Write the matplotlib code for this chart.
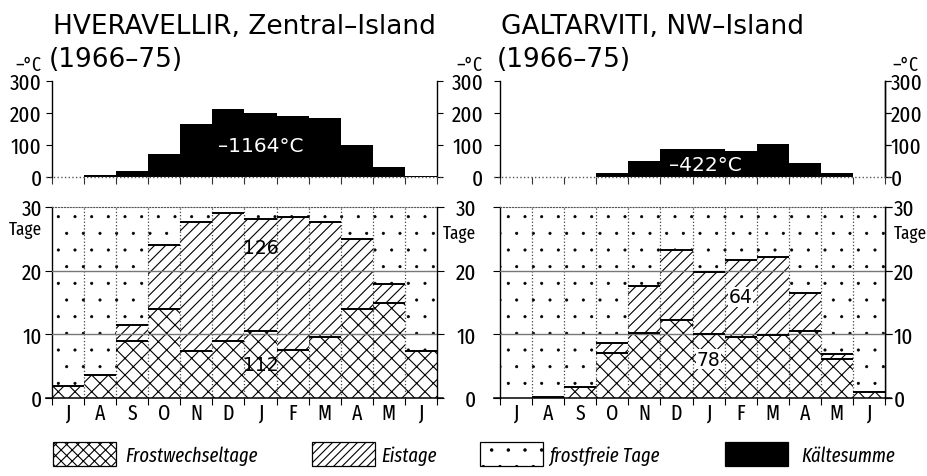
import matplotlib
matplotlib.use('Agg')
import matplotlib.pyplot as plt
import matplotlib.hatch as mhatch
from matplotlib.patches import Patch
import numpy as np

plt.rcParams['hatch.linewidth'] = 0.8
plt.rcParams['hatch.color'] = 'black'
mhatch.SmallFilledCircles.size = 0.07   # finer dots for the "frostfreie Tage" pattern

# ---------------- data ----------------
months = ['J', 'A', 'S', 'O', 'N', 'D', 'J', 'F', 'M', 'A', 'M', 'J']

# HVERAVELLIR, Zentral-Island (1966-75)
hv_kaelte = [0, 5, 20, 71, 167, 211, 199, 191, 185, 101, 31, 4]
hv_frostwechsel = [1.9, 3.6, 8.9, 14.0, 7.4, 8.9, 10.5, 7.5, 9.6, 14.0, 14.9, 7.4]
hv_eis = [0, 0, 2.6, 10.0, 20.2, 20.2, 17.6, 21.0, 18.0, 10.9, 3.0, 0]
hv_frostfrei = [28.1, 26.4, 18.5, 6.0, 2.4, 0.9, 1.9, 1.5, 2.4, 5.1, 12.1, 22.6]

# GALTARVITI, NW-Island (1966-75)
ga_kaelte = [0, 0, 0, 13, 49, 89, 86, 81, 103, 44, 11, 0]
ga_frostwechsel = [0, 0.1, 1.7, 7.1, 10.2, 12.3, 10.0, 9.6, 9.9, 10.6, 6.2, 0.9]
ga_eis = [0, 0, 0, 1.5, 7.4, 10.9, 9.8, 12.1, 12.2, 5.9, 0.7, 0]
ga_frostfrei = [30.0, 29.9, 28.3, 21.4, 12.4, 6.8, 10.2, 8.3, 7.9, 13.5, 23.1, 29.1]

kaelte_ticks = [0, 100, 200, 300]
tage_ticks = [0, 10, 20, 30]
tage_grid = [10, 20]

legend_labels = ['Frostwechseltage', 'Eistage', 'frostfreie Tage', 'Kältesumme']

# ---------------- styling ----------------
NARROW = ['Fira Sans Extra Condensed', 'Barlow Condensed', 'Roboto Condensed',
          'IBM Plex Sans Condensed', 'PT Sans Narrow', 'DejaVu Sans']
WIDE = ['DejaVu Sans']
W, H = 928, 477

fig = plt.figure(figsize=(W / 100, H / 100), dpi=100)


def fx(px):
    return px / W


def fy(py):
    return 1 - py / H


panels = [
    dict(x0=52, t1='HVERAVELLIR, Zentral–Island', t2='(1966–75)',
         kaelte=hv_kaelte, fw=hv_frostwechsel, eis=hv_eis, frei=hv_frostfrei,
         ktext='–1164°C', kpos=(6.0, 97), eistext='126', eispos=(6.0, 23.6),
         fwtext='112', fwpos=(6.0, 5.3), right_labels=False,
         top_pad=3.5, bot_pad=2.0, cx=-8, tage_dy=-9.5),
    dict(x0=500, t1='GALTARVITI, NW–Island', t2='(1966–75)',
         kaelte=ga_kaelte, fw=ga_frostwechsel, eis=ga_eis, frei=ga_frostfrei,
         ktext='–422°C', kpos=(5.9, 38), eistext='64', eispos=(7.0, 15.9),
         fwtext='78', fwpos=(6.0, 6.1), right_labels=True,
         top_pad=8.0, bot_pad=12.0, cx=-13, tage_dy=-12.5),
]

x = np.arange(12)
bounds = np.arange(-0.5, 12, 1.0)
TICK_SIZE = 16.5


def style_labels(labels, size=TICK_SIZE):
    for lab in labels:
        lab.set_fontfamily(NARROW)
        lab.set_fontsize(size)


for p in panels:
    x0 = p['x0']
    # titles
    fig.text(fx(x0 + 1), fy(27), p['t1'], family=WIDE, size=19, va='center', ha='left')
    fig.text(fx(x0 - 3), fy(60), p['t2'], family=WIDE, size=19, va='center', ha='left')

    # ---------- top: Kältesumme ----------
    at = fig.add_axes([fx(x0), fy(178), 385 / W, 96 / H])
    at.bar(x, p['kaelte'], width=1.0, color='black', edgecolor='none', zorder=2)
    at.set_xlim(-0.5, 11.5)
    at.set_ylim(0, 300)
    at.spines['top'].set_visible(False)
    at.spines['bottom'].set_visible(False)
    at.axhline(0, xmin=-0.015, xmax=1.015, color='#555555', ls=':', lw=1.0, clip_on=False, zorder=3)
    for s in ('left', 'right'):
        at.spines[s].set_linewidth(1.0)
    at.set_xticks(bounds)
    at.set_xticklabels([])
    at.tick_params(axis='x', direction='out', length=5, width=0.8, color='#333333')
    at.set_yticks(kaelte_ticks)
    at.tick_params(axis='y', direction='out', length=4, width=0.8, left=True, right=True,
                   labelleft=True, labelright=False, pad=p['top_pad'])
    style_labels(at.get_yticklabels())
    if p['right_labels']:
        sec = at.secondary_yaxis('right')
        sec.set_yticks(kaelte_ticks)
        sec.tick_params(axis='y', direction='out', length=4, width=0.8, pad=0.3)
        sec.spines['right'].set_linewidth(1.0)
        style_labels(sec.get_yticklabels())
        at.annotate('–°C', xy=(1, 300), xycoords=('axes fraction', 'data'),
                    xytext=(5, 5), textcoords='offset points', ha='left', va='bottom',
                    family=NARROW, size=14)
    at.annotate('–°C', xy=(0, 300), xycoords=('axes fraction', 'data'),
                xytext=(p['cx'], 5), textcoords='offset points',
                ha='right', va='bottom', family=NARROW, size=14)
    at.text(p['kpos'][0], p['kpos'][1], p['ktext'], color='white', ha='center', va='center',
            family=WIDE, size=14.5, zorder=5)

    # ---------- bottom: Tage ----------
    ab = fig.add_axes([fx(x0), fy(399), 385 / W, 191 / H])
    fw = np.array(p['fw'])
    eis = np.array(p['eis'])
    frei = np.array(p['frei'])
    ab.bar(x, fw, width=1.0, bottom=0, facecolor='white', edgecolor='black',
           hatch='xx', linewidth=0, zorder=1)
    ab.bar(x, eis, width=1.0, bottom=fw, facecolor='white', edgecolor='black',
           hatch='///', linewidth=0, zorder=1)
    dots = ab.bar(x, frei, width=1.0, bottom=fw + eis, facecolor='white', edgecolor='black',
                  hatch='.', linewidth=0, zorder=1)
    for b in dots:
        b.set_hatch_linewidth(0.5)
    m1 = fw > 0
    ab.hlines(fw[m1], x[m1] - 0.5, x[m1] + 0.5, colors='black', lw=1.4, zorder=4)
    m2 = eis > 0
    ab.hlines((fw + eis)[m2], x[m2] - 0.5, x[m2] + 0.5, colors='black', lw=1.4, zorder=4)
    ab.vlines(bounds[1:-1], 0, 30, colors='#444444', linestyles=':', lw=0.9, zorder=3)
    for g in tage_grid:
        ab.axhline(g, color='#777777', lw=1.0, zorder=3)
    ab.set_xlim(-0.5, 11.5)
    ab.set_ylim(0, 30)
    ab.spines['top'].set_linestyle(':')
    ab.spines['top'].set_color('#555555')
    ab.spines['bottom'].set_visible(False)
    ab.axhline(0, xmin=-0.015, xmax=1.015, color='black', lw=1.1, clip_on=False, zorder=5)
    for s in ('left', 'right'):
        ab.spines[s].set_linewidth(1.0)
    ab.set_xticks(x)
    ab.set_xticklabels(months)
    style_labels(ab.get_xticklabels(), 15.5)
    ab.set_xticks(bounds, minor=True)
    ab.tick_params(axis='x', which='major', length=0, pad=3)
    ab.tick_params(axis='x', which='minor', direction='out', length=5, width=0.8)
    ab.set_yticks(tage_ticks)
    ab.tick_params(axis='y', direction='out', length=5, width=0.8, left=True, right=True,
                   labelleft=True, labelright=False, pad=p['bot_pad'])
    style_labels(ab.get_yticklabels())
    ab.annotate('Tage', xy=(0, 30), xycoords=('axes fraction', 'data'),
                xytext=(-(5 + p['bot_pad']), p['tage_dy']), textcoords='offset points',
                ha='right', va='top', family=NARROW, size=13.5)
    if p['right_labels']:
        sec = ab.secondary_yaxis('right')
        sec.set_yticks(tage_ticks)
        sec.tick_params(axis='y', direction='out', length=5, width=0.8, pad=1.5)
        sec.spines['right'].set_linewidth(1.0)
        style_labels(sec.get_yticklabels())
        ab.annotate('Tage', xy=(1, 30), xycoords=('axes fraction', 'data'),
                    xytext=(6.5, p['tage_dy']), textcoords='offset points',
                    ha='left', va='top', family=NARROW, size=13.5)
    box = dict(facecolor='white', edgecolor='none', pad=0.5) if p['right_labels'] else None
    ab.text(p['eispos'][0], p['eispos'][1], p['eistext'], ha='center', va='center',
            family=WIDE, size=13.5, zorder=6, bbox=box)
    ab.text(p['fwpos'][0], p['fwpos'][1], p['fwtext'], ha='center', va='center',
            family=WIDE, size=13.5, zorder=6, bbox=box)

# ---------------- legend (one entry per anchor) ----------------
handles = [
    Patch(facecolor='white', edgecolor='black', hatch='xxx', linewidth=0.9),
    Patch(facecolor='white', edgecolor='black', hatch='////', linewidth=0.9),
    Patch(facecolor='white', edgecolor='black', hatch='.', linewidth=0.9),
    Patch(facecolor='black', edgecolor='black', linewidth=0.9),
]
handles[2].set_hatch_linewidth(0.5)
legend_x = [53, 312, 480, 725]
legend_pad = [0.45, 0.3, 0.3, 0.65]
for h, lab, lx, tp in zip(handles, legend_labels, legend_x, legend_pad):
    fig.legend([h], [lab], loc='center left', bbox_to_anchor=(fx(lx), fy(455)),
               frameon=False, prop=dict(family=NARROW, style='italic', size=14.5),
               handlelength=3.13, handleheight=1.46, handletextpad=tp,
               borderpad=0, borderaxespad=0)

fig.savefig('out.png', dpi=100)
